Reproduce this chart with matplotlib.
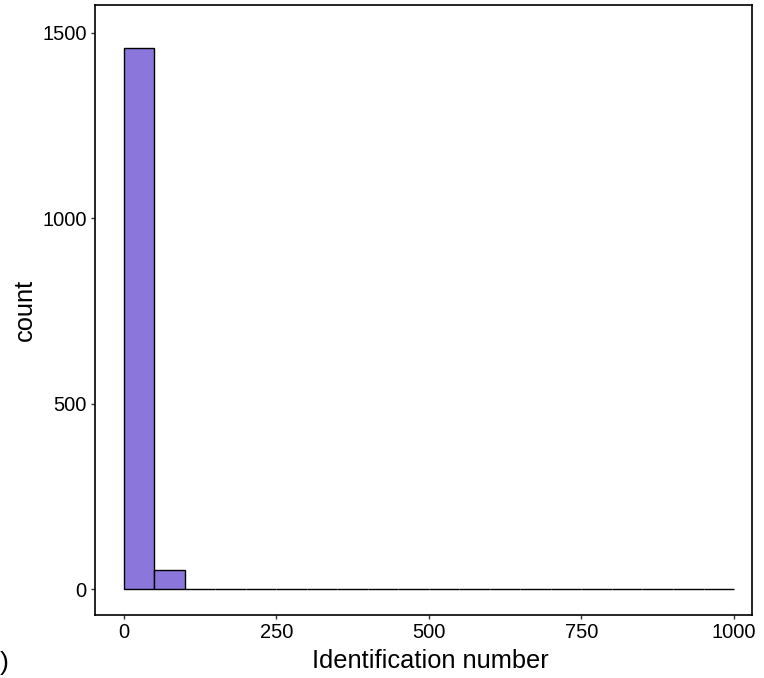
import matplotlib
matplotlib.use("Agg")
import matplotlib.pyplot as plt
import numpy as np

plt.rcParams['font.family'] = ['Liberation Sans', 'DejaVu Sans']

# Histogram bins (width 50) and counts per bin
bin_edges = list(range(0, 1001, 50))
counts = [1459, 51, 0, 0, 0, 0, 0, 0, 0, 0, 0, 0, 0, 0, 0, 0, 0, 0, 0, 0]
x_ticks = [0, 250, 500, 750, 1000]
y_ticks = [0, 500, 1000, 1500]

fig = plt.figure(figsize=(7.64, 6.78), dpi=100)
ax = fig.add_axes([0.1243, 0.0929, 0.86, 0.8997])

lefts = np.array(bin_edges[:-1])
widths = np.diff(bin_edges)
ax.bar(lefts, counts, width=widths, align='edge', color='#8B77DB',
       edgecolor='black', linewidth=1.0)

ax.set_xlim(-47.5, 1029.5)
ax.set_ylim(-70, 1575)
ax.set_xticks(x_ticks)
ax.set_yticks(y_ticks)
ax.tick_params(labelsize=14.5, length=3, width=1, colors='#333333',
               labelcolor='black', pad=3)
for s in ax.spines.values():
    s.set_linewidth(1.2)
    s.set_color('black')

ax.set_xlabel('Identification number', fontsize=18.3, labelpad=5)
ax.xaxis.label.set_x(0.51)
ax.set_ylabel('count', fontsize=18.3, labelpad=4)

fig.text(0.0, 0.005, ')', fontsize=19, ha='left', va='bottom')

fig.savefig('out.png', dpi=100)
